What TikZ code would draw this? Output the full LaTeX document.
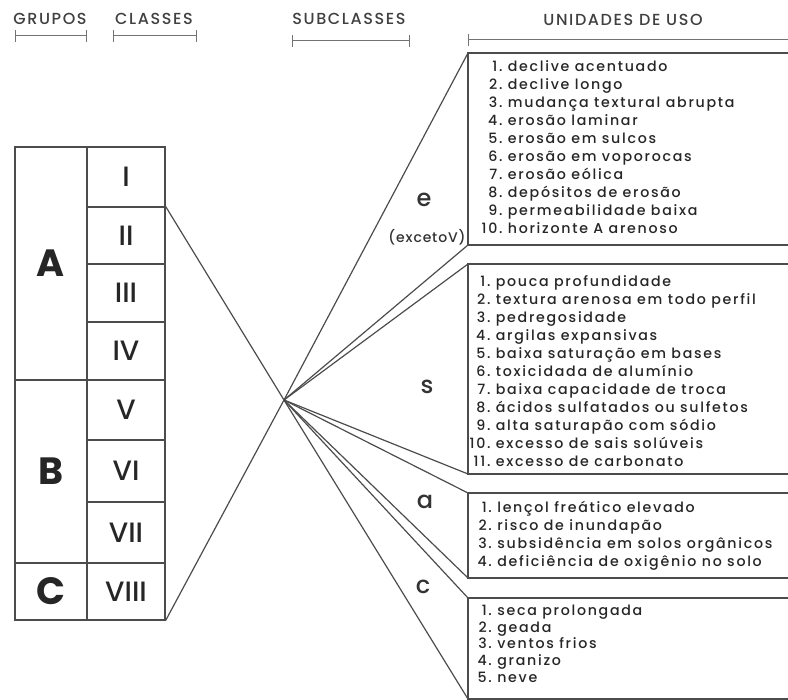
\documentclass[tikz,border=0pt]{standalone}
\usepackage{fontspec}
\setmainfont{Poppins}
\newfontfamily\medio{Poppins Medium}
\usepackage{tikz}
\usetikzlibrary{positioning}

\begin{document}
\begin{tikzpicture} [x=0.5pt, y=-0.5pt, line width=0.6pt, draw=black!70,
                    titulo/.style={font=\medio\fontsize{8}{10}\selectfont\addfontfeature{LetterSpace=10}, text=black!75},
                    barra/.style={draw=black!55, line width=0.5pt, |-|},
                    celula/.style={rectangle, draw=black!70, inner sep=0pt, minimum width=39pt, text=black!85, font=\medio\fontsize{14}{15}\selectfont},
                    grupo/.style={rectangle, draw=black!70, inner sep=0pt, minimum width=36pt, text=black!85, font=\fontsize{19}{20}\selectfont\bfseries},
                    sub/.style={text=black!80, font=\medio\fontsize{12}{13}\selectfont},
                    lista/.style={anchor=north west, inner sep=0pt, text=black!85, font=\medio\fontsize{7.1}{9}\selectfont\addfontfeature{LetterSpace=12}}]

\useasboundingbox (0,0) rectangle (788,700);

% cabecalho
\node[titulo] (grupos) at (50,19) {GRUPOS};
\node[titulo] (classes) at (154,19) {CLASSES};
\node[titulo] (subclasses) at (349,19) {SUBCLASSES};
\node[titulo] (unidades) at (623,20) {UNIDADES DE USO};
\draw[barra] (15,36) -- (87,36);
\draw[barra] (113,36) -- (197,36);
\draw[barra] (292,41) -- (410,41);
\draw[draw=black!55, line width=0.5pt, |-] (468,40) -- (788,40);

% classes
\node[celula, minimum height=30pt] (I) at (126,177) {I};
\node[celula, minimum height=28.5pt] (II) at (126,235.5) {II};
\node[celula, minimum height=29pt] (III) at (126,293) {III};
\node[celula, minimum height=29pt] (IV) at (126,351) {IV};
\node[celula, minimum height=30pt] (V) at (126,410) {V};
\node[celula, minimum height=31pt] (VI) at (126,471) {VI};
\node[celula, minimum height=30.5pt] (VII) at (126,532.5) {VII};
\node[celula, minimum height=28.5pt] (VIII) at (126,591.5) {VIII};

% grupos
\node[grupo, minimum height=116.5pt] (A) at (51,263.5) {A};
\node[grupo, minimum height=91.5pt] (B) at (51,471.5) {B};
\node[grupo, minimum height=28.5pt] (C) at (51,591.5) {C};

\coordinate (cruz) at (284,400);

% caixas das unidades
\coordinate (e1) at (468,53);
\coordinate (e2) at (468,245);
\coordinate (s1) at (468,264);
\coordinate (s2) at (468,474);
\coordinate (a1) at (468,493);
\coordinate (a2) at (468,578);
\coordinate (c1) at (468,598);
\coordinate (c2) at (468,699);

\draw (788,53) -- (e1) -- (e2) -- (788,245);
\draw (788,264) -- (s1) -- (s2) -- (788,474);
\draw (788,493) -- (a1) -- (a2) -- (788,578);
\draw (788,598) -- (c1) -- (c2) -- (788,699);

\path (II.north east) edge (cruz)
      (VIII.south east) edge (cruz)
      (cruz) edge (e1) edge (e2) edge (s1) edge (s2)
             edge (a1) edge (a2) edge (c1) edge (c2);

% subclasses
\node[sub] (e) at (424,200) {e};
\node[text=black!80, font=\medio\fontsize{7}{8}\selectfont\addfontfeature{LetterSpace=6}] (exceto) at (427,237) {(excetoV)};
\node[sub] (s) at (427,387) {s};
\node[sub] (a) at (425,502) {a};
\node[sub] (c) at (423,587) {c};

% listas
\node[lista] (le) at (481,58) {\begin{tabular}{@{}r@{\ }l@{}}
1. & declive acentuado\\
2. & declive longo\\
3. & mudança textural abrupta\\
4. & erosão laminar\\
5. & erosão em sulcos\\
6. & erosão em voporocas\\
7. & erosão eólica\\
8. & depósitos de erosão\\
9. & permeabilidade baixa\\
10. & horizonte A arenoso
\end{tabular}};
\node[lista] (ls) at (469,273) {\begin{tabular}{@{}r@{\ }l@{}}
1. & pouca profundidade\\
2. & textura arenosa em todo perfil\\
3. & pedregosidade\\
4. & argilas expansivas\\
5. & baixa saturação em bases\\
6. & toxicidada de alumínio\\
7. & baixa capacidade de troca\\
8. & ácidos sulfatados ou sulfetos\\
9. & alta saturapão com sódio\\
10. & excesso de sais solúveis\\
11. & excesso de carbonato
\end{tabular}};
\node[lista] (la) at (477,499) {\begin{tabular}{@{}r@{\ }l@{}}
1. & lençol freático elevado\\
2. & risco de inundapão\\
3. & subsidência em solos orgânicos\\
4. & deficiência de oxigênio no solo
\end{tabular}};
\node[lista, font=\medio\fontsize{7.1}{8.4}\selectfont\addfontfeature{LetterSpace=12}] (lc) at (477,603) {\begin{tabular}{@{}r@{\ }l@{}}
1. & seca prolongada\\
2. & geada\\
3. & ventos frios\\
4. & granizo\\
5. & neve
\end{tabular}};
\end{tikzpicture}
\end{document}
